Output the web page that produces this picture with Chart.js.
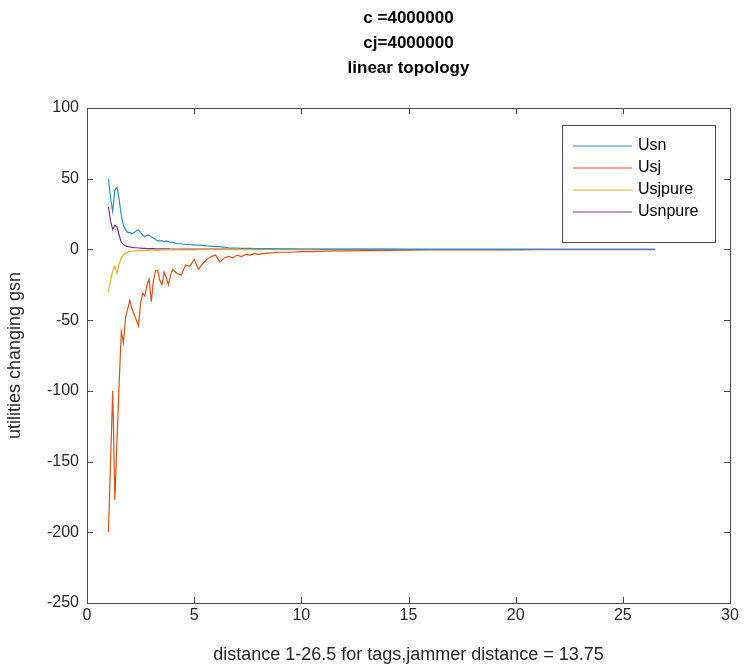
<!DOCTYPE html>
<html>
<head>
<meta charset="utf-8">
<script src="https://cdn.jsdelivr.net/npm/chart.js@4.4.1/dist/chart.umd.min.js"></script>
<style>
  html, body { margin: 0; padding: 0; background: #ffffff; }
  #wrap { width: 746px; height: 668px; position: relative; }
</style>
</head>
<body>
<div id="wrap"><canvas id="c" width="746" height="668"></canvas></div>
<script>
// ---- data ----
const titleLines = ['c =4000000', 'cj=4000000', 'linear topology'];
const xLabel = 'distance 1-26.5 for tags,jammer distance = 13.75';
const yLabel = 'utilities changing gsn';
const seriesNames = ['Usn', 'Usj', 'Usjpure', 'Usnpure'];

const xs = [1.0,1.1,1.2,1.3,1.4,1.5,1.6,1.7,1.8,1.9,2.0,2.1,2.2,2.3,2.4,2.5,2.6,2.7,2.8,2.9,
            3.0,3.1,3.2,3.3,3.4,3.5,3.6,3.7,3.8,3.9,4.0,4.2,4.4,4.6,4.8,5.0,5.2,5.4,5.6,5.8,
            6.0,6.2,6.4,6.6,6.8,7.0,7.2,7.4,7.6,7.8,8.0,8.5,9.0,9.5,10,10.5,11,11.5,12,13,
            14,15,16,17,18,19,20,21,22,23,24,25,26,26.5];

const usn = [50,36,27,42,44,35,24,17,14,12,12,11,12,13,14,12,10,9,10,10,
             9,8,7,6,6,6,5.5,6,5.5,5,5,4,4,3.5,3.5,3,3,2.8,2.5,2.4,
             2,2,1.6,1.2,1.0,1.0,0.8,0.8,0.7,0.6,0.6,0.5,0.4,0.35,0.3,0.3,0.25,0.2,0.2,0.15,
             0.15,0.1,0.1,0.1,0.1,0.1,0.1,0.1,0.1,0.1,0.1,0.1,0.1,0.1];

const usj = [-200,-150,-100,-177,-135,-95,-58,-66,-48,-42,-36,-42,-46,-50,-54,-38,-31,-33,-25,-21,
             -37,-22,-15,-15,-22,-25,-16,-20,-25,-18,-14,-17,-18,-11,-12,-7,-14,-10,-7,-5,
             -4,-9,-6,-5,-6,-4,-5,-3.5,-4,-3,-3.5,-2.5,-2,-2,-1.5,-1.5,-1.2,-1,-1,-0.8,
             -0.6,-0.5,-0.4,-0.4,-0.3,-0.3,-0.3,-0.2,-0.2,-0.2,-0.15,-0.15,-0.1,-0.1];

const usjpure = [-30,-22,-15,-12,-17,-10,-6,-4,-2.5,-2,-1.5,-1.3,-1.1,-1,-0.9,-0.8,-0.75,-0.7,-0.65,-0.6,
                 -0.55,-0.5,-0.5,-0.45,-0.45,-0.4,-0.4,-0.4,-0.35,-0.35,-0.3,-0.3,-0.3,-0.25,-0.25,-0.25,-0.2,-0.2,-0.2,-0.2,
                 -0.2,-0.15,-0.15,-0.15,-0.15,-0.15,-0.1,-0.1,-0.1,-0.1,-0.1,-0.1,-0.1,-0.1,-0.1,-0.1,-0.05,-0.05,-0.05,-0.05,
                 -0.05,-0.05,-0.05,-0.05,-0.05,-0.05,-0.05,-0.05,-0.05,-0.05,-0.05,-0.05,-0.05,-0.05];

const usnpure = [30,20,14,17,16,10,5,3.5,2.5,2,1.8,1.5,1.3,1.2,1.0,0.9,0.8,0.7,0.6,0.55,
                 0.5,0.5,0.45,0.45,0.4,0.4,0.4,0.35,0.35,0.3,0.3,0.3,0.25,0.25,0.25,0.2,0.2,0.2,0.2,0.2,
                 0.15,0.15,0.15,0.15,0.15,0.1,0.1,0.1,0.1,0.1,0.1,0.1,0.1,0.1,0.1,0.1,0.05,0.05,0.05,0.05,
                 0.05,0.05,0.05,0.05,0.05,0.05,0.05,0.05,0.05,0.05,0.05,0.05,0.05,0.05];

const xTicks = [0, 5, 10, 15, 20, 25, 30];
const yTicks = [-250, -200, -150, -100, -50, 0, 50, 100];

// ---- styling ----
const colors = ['#2a8fc9', '#d95319', '#edb120', '#7e2f8e'];
const axisColor = '#4a4a4a';
const textColor = '#262626';
const FONT = "'Liberation Sans', Arial, sans-serif";

const allSeries = [usn, usj, usjpure, usnpure];
const datasets = allSeries.map((arr, i) => ({
  label: seriesNames[i],
  data: xs.map((x, k) => ({ x: x, y: arr[k] })),
  borderColor: colors[i],
  backgroundColor: colors[i],
  borderWidth: 1.2,
  pointRadius: 0,
  tension: 0,
  fill: false
}));

const boxPlugin = {
  id: 'matlabBox',
  afterDraw(chart) {
    const { ctx, chartArea: a, scales } = chart;
    const xs_ = scales.x, ys_ = scales.y;
    ctx.save();
    ctx.strokeStyle = axisColor;
    ctx.lineWidth = 1;
    ctx.strokeRect(Math.round(a.left) + 0.5, Math.round(a.top) + 0.5,
                   Math.round(a.right - a.left), Math.round(a.bottom - a.top));
    const L = 6;
    ctx.beginPath();
    xTicks.forEach(v => {
      const px = Math.round(xs_.getPixelForValue(v)) + 0.5;
      ctx.moveTo(px, a.bottom); ctx.lineTo(px, a.bottom - L);
      ctx.moveTo(px, a.top); ctx.lineTo(px, a.top + L);
    });
    yTicks.forEach(v => {
      const py = Math.round(ys_.getPixelForValue(v)) + 0.5;
      ctx.moveTo(a.left, py); ctx.lineTo(a.left + L, py);
      ctx.moveTo(a.right, py); ctx.lineTo(a.right - L, py);
    });
    ctx.stroke();

    // title lines centred over the plot area
    ctx.fillStyle = '#000000';
    ctx.font = 'bold 17px ' + FONT;
    ctx.textAlign = 'center';
    ctx.textBaseline = 'middle';
    const cx = (a.left + a.right) / 2;
    titleLines.forEach((t, i) => ctx.fillText(t, cx, 18 + i * 25));

    // legend box (top right inside)
    const bx = 562, by = 125, bw = 153, bh = 117;
    ctx.fillStyle = '#ffffff';
    ctx.fillRect(bx, by, bw, bh);
    ctx.strokeStyle = '#4a4a4a';
    ctx.strokeRect(bx + 0.5, by + 0.5, bw, bh);
    ctx.font = '16px ' + FONT;
    ctx.textAlign = 'left';
    chart.data.datasets.forEach((ds, i) => {
      const ry = by + 21 + i * 22;
      ctx.strokeStyle = ds.borderColor;
      ctx.lineWidth = 1.2;
      ctx.beginPath();
      ctx.moveTo(bx + 11, ry); ctx.lineTo(bx + 70, ry);
      ctx.stroke();
      ctx.fillStyle = '#000000';
      ctx.fillText(ds.label, bx + 76, ry);
    });
    ctx.restore();
  }
};

new Chart(document.getElementById('c'), {
  type: 'line',
  data: { datasets: datasets },
  options: {
    responsive: false,
    animation: false,
    devicePixelRatio: 1,
    layout: { padding: { top: 108, right: 16, left: 0, bottom: 0 } },
    plugins: { legend: { display: false }, title: { display: false }, tooltip: { enabled: false } },
    scales: {
      x: {
        type: 'linear', min: 0, max: 30,
        afterBuildTicks(s) { s.ticks = xTicks.map(v => ({ value: v })); },
        afterFit(s) { s.height = 65; },
        grid: { display: false, drawTicks: false },
        border: { display: false },
        ticks: { color: textColor, font: { family: FONT, size: 16 }, padding: 3, maxRotation: 0 },
        title: { display: true, text: xLabel, color: textColor, font: { family: FONT, size: 18 }, padding: { top: 0, bottom: 2 } }
      },
      y: {
        type: 'linear', min: -250, max: 100,
        afterBuildTicks(s) { s.ticks = yTicks.map(v => ({ value: v })); },
        afterFit(s) { s.width = 87; },
        grid: { display: false, drawTicks: false },
        border: { display: false },
        ticks: { color: textColor, font: { family: FONT, size: 16 }, padding: 8 },
        title: { display: true, text: yLabel, color: textColor, font: { family: FONT, size: 18 }, padding: { top: 4, bottom: 0 } }
      }
    }
  },
  plugins: [boxPlugin]
});
</script>
</body>
</html>
